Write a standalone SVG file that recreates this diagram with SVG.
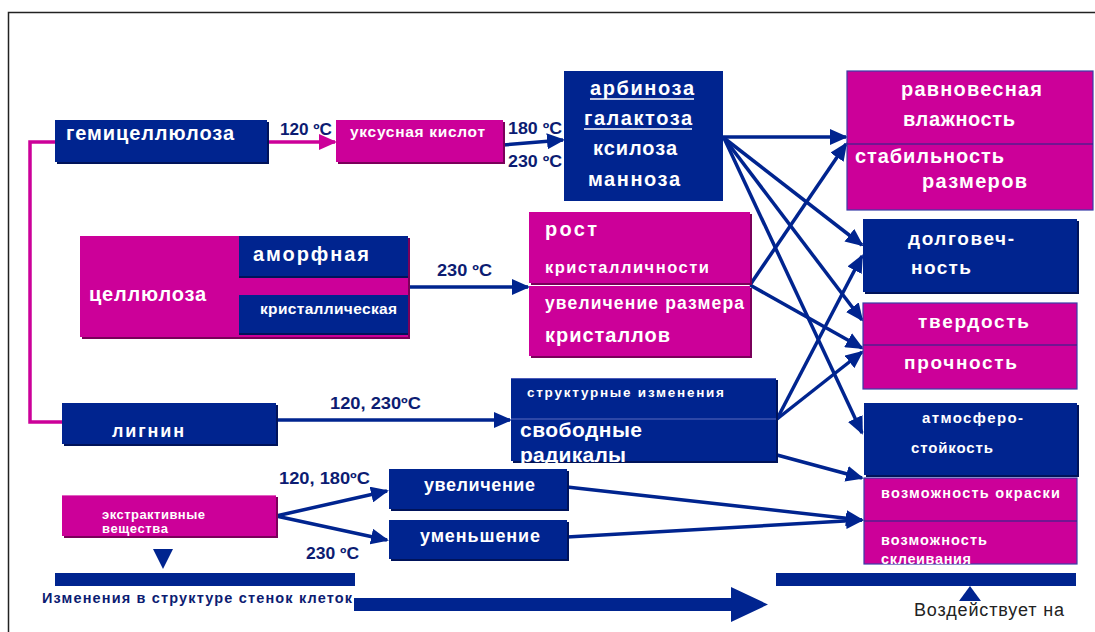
<svg xmlns="http://www.w3.org/2000/svg" width="1095" height="632" viewBox="0 0 1095 632">
<defs>
<style>
.b{fill:#00248f}
.m{fill:#cc0099}
.sb{fill:#00135a}
.sm{fill:#7a005a}
.bd{fill:none;stroke:#3a3ca8;stroke-width:1.2}
.dv{stroke:#1a2a8a;stroke-width:1.2}
.t{fill:#ffffff;font-family:"Liberation Sans",Arial,sans-serif;font-weight:bold}
.l{fill:#0c1c72;font-family:"Liberation Sans",Arial,sans-serif;font-weight:bold;font-size:16px}
.c{fill:none;stroke:#00248f;stroke-width:3.5}
.cm{fill:none;stroke:#cc0099;stroke-width:3.5}
</style>
<marker id="ab" markerUnits="userSpaceOnUse" markerWidth="18" markerHeight="16" refX="16" refY="8" orient="auto">
<path d="M0,0 L18,8 L0,16 z" fill="#00248f"/>
</marker>
<marker id="am" markerUnits="userSpaceOnUse" markerWidth="18" markerHeight="16" refX="16" refY="8" orient="auto">
<path d="M0,0 L18,8 L0,16 z" fill="#cc0099"/>
</marker>
</defs>
<rect x="0" y="0" width="1095" height="632" fill="#ffffff"/>
<rect x="8.5" y="12.5" width="1100" height="640" fill="none" stroke="#222" stroke-width="1.5"/>

<g id="connectors">
<path class="cm" d="M56,142 H30 V422 H63"/>
<line class="cm" x1="267" y1="142" x2="335" y2="142" marker-end="url(#am)"/>
<line class="c" x1="503" y1="145" x2="563" y2="140" marker-end="url(#ab)"/>
<line class="c" x1="723" y1="137" x2="846" y2="137" marker-end="url(#ab)"/>
<line class="c" x1="724" y1="138" x2="862" y2="245" marker-end="url(#ab)"/>
<line class="c" x1="724" y1="138" x2="862" y2="320" marker-end="url(#ab)"/>
<line class="c" x1="724" y1="138" x2="862" y2="433" marker-end="url(#ab)"/>
<line class="c" x1="750" y1="285" x2="846" y2="144" marker-end="url(#ab)"/>
<line class="c" x1="750" y1="285" x2="862" y2="348" marker-end="url(#ab)"/>
<line class="c" x1="777" y1="419" x2="862" y2="256" marker-end="url(#ab)"/>
<line class="c" x1="777" y1="419" x2="862" y2="352" marker-end="url(#ab)"/>
<line class="c" x1="777" y1="455" x2="862" y2="478" marker-end="url(#ab)"/>
<line class="c" x1="567" y1="487" x2="862" y2="520" marker-end="url(#ab)"/>
<line class="c" x1="567" y1="537" x2="862" y2="520" marker-end="url(#ab)"/>
<line class="c" x1="408" y1="287" x2="528" y2="287" marker-end="url(#ab)"/>
<line class="c" x1="276" y1="420" x2="510" y2="420" marker-end="url(#ab)"/>
<line class="c" x1="276" y1="516" x2="387" y2="491" marker-end="url(#ab)"/>
<line class="c" x1="276" y1="516" x2="387" y2="540" marker-end="url(#ab)"/>
<path d="M354,598 H731 V587 L768,604.5 L731,622 V611 H354 z" fill="#00248f"/>
<polygon points="153,549 173,549 163,569" fill="#00248f"/>
<polygon points="959,601 970,586 981,601" fill="#00248f"/>
</g>

<g id="labels">
<text class="l" x="280" y="135" textLength="52" lengthAdjust="spacingAndGlyphs">120 ºC</text>
<text class="l" x="508" y="134" textLength="54" lengthAdjust="spacingAndGlyphs">180 ºC</text>
<text class="l" x="508" y="167" textLength="54" lengthAdjust="spacingAndGlyphs">230 ºC</text>
<text class="l" x="437" y="276" textLength="55" lengthAdjust="spacingAndGlyphs">230 ºC</text>
<text class="l" x="330" y="409" textLength="91" lengthAdjust="spacingAndGlyphs">120, 230ºC</text>
<text class="l" x="279" y="484" textLength="91" lengthAdjust="spacingAndGlyphs">120, 180ºC</text>
<text class="l" x="306" y="559" textLength="53" lengthAdjust="spacingAndGlyphs">230 ºC</text>
</g>

<g id="hemicellulose">
<rect class="sb" x="57" y="122" width="212" height="42"/>
<rect class="b" x="55" y="120" width="212" height="42"/>
<text class="t" x="66" y="140" font-size="20" textLength="168" lengthAdjust="spacing">гемицеллюлоза</text>
</g>

<g id="acetic">
<rect class="sm" x="338" y="122" width="167" height="42"/>
<rect class="m" x="336" y="120" width="167" height="42"/>
<text class="t" x="350" y="137" font-size="15.5" textLength="135" lengthAdjust="spacing">уксусная кислот</text>
</g>

<g id="sugars">
<rect class="b" x="564" y="71" width="159" height="130"/>
<text class="t" x="590" y="95" font-size="20" textLength="104" lengthAdjust="spacing">арбиноза</text>
<line x1="590" y1="99" x2="694" y2="99" stroke="#fff" stroke-width="1.6"/>
<text class="t" x="584" y="125" font-size="20" textLength="108" lengthAdjust="spacing">галактоза</text>
<line x1="584" y1="129" x2="692" y2="129" stroke="#fff" stroke-width="1.6"/>
<text class="t" x="593" y="155" font-size="20" textLength="84" lengthAdjust="spacing">ксилоза</text>
<text class="t" x="588" y="186" font-size="20" textLength="92" lengthAdjust="spacing">манноза</text>
</g>

<g id="moisture">
<rect class="m" x="847" y="71" width="246" height="139"/>
<rect class="bd" x="847" y="71" width="246" height="139"/>
<line class="dv" x1="847" y1="144" x2="1093" y2="144"/>
<text class="t" x="901" y="96" font-size="20" textLength="141" lengthAdjust="spacing">равновесная</text>
<text class="t" x="903" y="126" font-size="20" textLength="112" lengthAdjust="spacing">влажность</text>
<text class="t" x="855" y="163" font-size="20" textLength="149" lengthAdjust="spacing">стабильность</text>
<text class="t" x="922" y="188" font-size="20" textLength="105" lengthAdjust="spacing">размеров</text>
</g>

<g id="cellulose">
<rect class="sm" x="82" y="238" width="328" height="101"/>
<rect class="m" x="80" y="236" width="328" height="101"/>
<rect class="b" x="239" y="236" width="169" height="41"/>
<rect class="sb" x="239" y="276" width="169" height="2"/>
<rect class="b" x="239" y="295" width="169" height="40"/>
<rect class="sb" x="239" y="333" width="169" height="2"/>
<text class="t" x="89" y="301" font-size="20" textLength="117" lengthAdjust="spacing">целлюлоза</text>
<text class="t" x="253" y="261" font-size="20" textLength="116" lengthAdjust="spacing">аморфная</text>
<text class="t" x="260" y="314" font-size="15.5" textLength="137" lengthAdjust="spacing">кристаллическая</text>
</g>

<g id="crystallinity">
<rect class="sm" x="531" y="214" width="221" height="71"/>
<rect class="m" x="529" y="212" width="221" height="71"/>
<rect class="sm" x="531" y="288" width="221" height="70"/>
<rect class="m" x="529" y="286" width="221" height="70"/>
<text class="t" x="545" y="236" font-size="20" textLength="52" lengthAdjust="spacing">рост</text>
<text class="t" x="545" y="273" font-size="16.5" textLength="164" lengthAdjust="spacing">кристалличности</text>
<text class="t" x="545" y="309" font-size="17.5" textLength="199" lengthAdjust="spacing">увеличение размера</text>
<text class="t" x="545" y="342" font-size="20" textLength="125" lengthAdjust="spacing">кристаллов</text>
</g>

<g id="durability">
<rect class="sb" x="865" y="221" width="214" height="73"/>
<rect class="b" x="863" y="219" width="214" height="73"/>
<text class="t" x="908" y="245" font-size="19" textLength="106" lengthAdjust="spacing">долговеч-</text>
<text class="t" x="911" y="274" font-size="19" textLength="60" lengthAdjust="spacing">ность</text>
</g>

<g id="hardness">
<rect class="m" x="863" y="303" width="214" height="86"/>
<rect class="bd" x="863" y="303" width="214" height="86"/>
<line class="dv" x1="863" y1="345" x2="1077" y2="345"/>
<text class="t" x="918" y="328" font-size="19" textLength="111" lengthAdjust="spacing">твердость</text>
<text class="t" x="904" y="369" font-size="19" textLength="113" lengthAdjust="spacing">прочность</text>
</g>

<g id="lignin-products">
<rect class="sb" x="513" y="380" width="265" height="83"/>
<rect class="b" x="511" y="378" width="265" height="83"/>
<line x1="511" y1="378.5" x2="776" y2="378.5" stroke="#4a5ab8" stroke-width="1.2"/>
<line x1="511" y1="419" x2="776" y2="419" stroke="#5a6ac0" stroke-width="1.2"/>
<text class="t" x="527" y="397" font-size="13.5" textLength="197" lengthAdjust="spacing">структурные изменения</text>
<text class="t" x="520" y="437" font-size="21" textLength="122" lengthAdjust="spacing">свободные</text>
<text class="t" x="520" y="462" font-size="21" textLength="106" lengthAdjust="spacing">радикалы</text>
</g>

<g id="weather">
<rect class="sb" x="866" y="405" width="213" height="72"/>
<rect class="b" x="864" y="403" width="213" height="72"/>
<text class="t" x="922" y="423" font-size="15" textLength="101" lengthAdjust="spacing">атмосферо-</text>
<text class="t" x="911" y="453" font-size="15" textLength="82" lengthAdjust="spacing">стойкость</text>
</g>

<g id="coloring">
<rect class="m" x="864" y="478" width="213" height="86"/>
<rect class="bd" x="864" y="478" width="213" height="86"/>
<line class="dv" x1="864" y1="521" x2="1077" y2="521"/>
<text class="t" x="881" y="498" font-size="14.5" textLength="179" lengthAdjust="spacing">возможность окраски</text>
<text class="t" x="881" y="545" font-size="14.5" textLength="106" lengthAdjust="spacing">возможность</text>
<text class="t" x="881" y="564" font-size="14.5" textLength="90" lengthAdjust="spacing">склеивания</text>
</g>

<g id="lignin">
<rect class="sb" x="64" y="405" width="214" height="41"/>
<rect class="b" x="62" y="403" width="214" height="41"/>
<text class="t" x="112" y="437" font-size="18" textLength="72" lengthAdjust="spacing">лигнин</text>
</g>

<g id="extractives">
<rect class="sm" x="64" y="497" width="214" height="41"/>
<rect class="m" x="62" y="495" width="214" height="41"/>
<line x1="62" y1="495.5" x2="276" y2="495.5" stroke="#e060c0" stroke-width="1.2"/>
<text class="t" x="102" y="519" font-size="13" textLength="103" lengthAdjust="spacing">экстрактивные</text>
<text class="t" x="102" y="533" font-size="13" textLength="66" lengthAdjust="spacing">вещества</text>
</g>

<g id="increase">
<rect class="sb" x="391" y="471" width="178" height="40"/>
<rect class="b" x="389" y="469" width="178" height="40"/>
<text class="t" x="424" y="491" font-size="18" textLength="111" lengthAdjust="spacing">увеличение</text>
</g>

<g id="decrease">
<rect class="sb" x="391" y="522" width="178" height="39"/>
<rect class="b" x="389" y="520" width="178" height="39"/>
<text class="t" x="420" y="542" font-size="18" textLength="120" lengthAdjust="spacing">уменьшение</text>
</g>

<g id="wall-changes">
<rect class="b" x="55" y="573" width="300" height="13"/>
<text class="l" x="42" y="603" style="font-size:14.5px" textLength="310" lengthAdjust="spacing">Изменения в структуре стенок клеток</text>
</g>

<g id="affects">
<rect class="b" x="776" y="573" width="300" height="13"/>
<text x="914" y="616" font-family="Liberation Sans, Arial, sans-serif" font-size="18" fill="#222" textLength="150" lengthAdjust="spacing">Воздействует на</text>
</g>
</svg>
